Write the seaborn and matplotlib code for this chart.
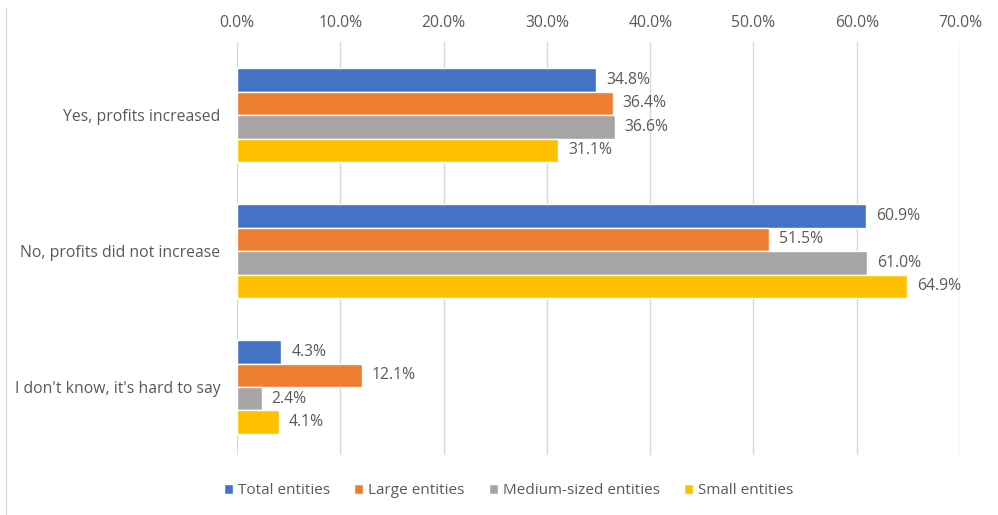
import numpy as np
import pandas as pd
import seaborn as sns
import matplotlib.pyplot as plt
from matplotlib.lines import Line2D
from matplotlib.ticker import FuncFormatter

categories = ["Yes, profits increased", "No, profits did not increase", "I don't know, it's hard to say"]
groups = ["Total entities", "Large entities", "Medium-sized entities", "Small entities"]
total_entities = [34.8, 60.9, 4.3]
large_entities = [36.4, 51.5, 12.1]
medium_entities = [36.6, 61.0, 2.4]
small_entities = [31.1, 64.9, 4.1]

colors = ["#4472C4", "#ED7D31", "#A5A5A5", "#FFC000"]

df = pd.DataFrame({
    "answer": categories * 4,
    "group": np.repeat(groups, 3),
    "share": total_entities + large_entities + medium_entities + small_entities,
})

sns.set_theme(style="white")
plt.rcParams['font.family'] = ['Open Sans', 'DejaVu Sans']
text_color = "#595959"
fs = 11.3

fig = plt.figure(figsize=(9.98, 5.15), dpi=100)
ax = fig.add_axes([0.2375, 0.1165, 0.7245, 0.8015])

sns.barplot(data=df, y="answer", x="share", hue="group", order=categories,
            hue_order=groups, palette=colors, orient="h", width=0.69,
            saturation=1, ax=ax, errorbar=None, legend=True)

# value labels at the bar ends
for cont in ax.containers:
    ax.bar_label(cont, fmt="%.1f%%", padding=7, color=text_color, fontsize=fs)

ax.set_xlim(0, 70)
ax.set_xticks(np.arange(0, 71, 10))
ax.xaxis.set_major_formatter(FuncFormatter(lambda v, p: f"{v:.1f}%"))
ax.xaxis.tick_top()
ax.tick_params(axis="x", length=0, labelsize=fs, labelcolor=text_color, pad=8)
ax.tick_params(axis="y", length=0, labelsize=fs, labelcolor=text_color, pad=12)
ax.set_ylim(2.5, -0.537)
ax.grid(axis="x", color="#D9D9D9", linewidth=1)
ax.set_axisbelow(True)
ax.set_xlabel("")
ax.set_ylabel("")
for s in ax.spines.values():
    s.set_visible(False)

handles, labels = ax.get_legend_handles_labels()
ax.legend_.remove()
fig.legend(handles, labels, loc="center", bbox_to_anchor=(0.5095, 0.047), ncol=4,
           frameon=False, fontsize=11, labelcolor=text_color, handlelength=0.6,
           handleheight=0.6, handletextpad=0.3, columnspacing=1.6)

fig.add_artist(Line2D([0.006, 0.006], [0, 0.985], color="#D9D9D9", linewidth=1,
                      transform=fig.transFigure))

fig.savefig("out.png", dpi=100)
